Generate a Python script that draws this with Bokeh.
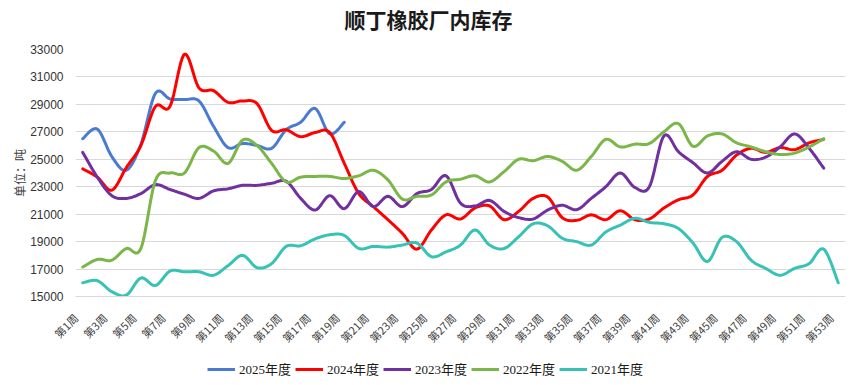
import numpy as np
from bokeh.plotting import figure
from bokeh.layouts import column
from bokeh.models import FixedTicker, Label, Legend, LegendItem, Range1d
from bokeh.embed import file_html
from bokeh.resources import INLINE

title_text = "顺丁橡胶厂内库存"
weeks = list(range(1, 54))
x_ticks = list(range(1, 54, 2))
x_tick_labels = [f"第{w}周" for w in x_ticks]
y_ticks = [15000, 17000, 19000, 21000, 23000, 25000, 27000, 29000, 31000, 33000]

series_names = ["2025年度", "2024年度", "2023年度", "2022年度", "2021年度"]
series_colors = ["#4A7BD0", "#FF0000", "#7030A0", "#7AB648", "#36C2B4"]

y2025 = [26500, 27200, 25200, 24200, 26100, 29800, 29400, 29350, 29250, 27400,
         25850, 26150, 26000, 25800, 27150, 27700, 28700, 26850, 27700]
y2024 = [24300, 23700, 22750, 24400, 26000, 28850, 28850, 32650, 30200, 30000,
         29150, 29250, 29050, 27100, 27150, 26650, 26950, 26950, 24700, 22500,
         21550, 20600, 19600, 18450, 19850, 20950, 20650, 21450, 21600, 20600,
         21200, 22150, 22250, 20750, 20550, 20950, 20600, 21250, 20600, 20650,
         21450, 22050, 22400, 23750, 24200, 25300, 25800, 25500, 25850, 25700,
         26200, 26450]
y2023 = [25500, 23700, 22350, 22150, 22500, 23150, 22800, 22450, 22150, 22700,
         22850, 23100, 23100, 23250, 23400, 22150, 21300, 22350, 21400, 22650,
         21550, 22300, 21550, 22500, 22800, 23800, 21800, 21600, 22000, 21200,
         20750, 20650, 21300, 21650, 21330, 22150, 23000, 24000, 22950, 23000,
         26700, 25550, 24750, 24000, 24850, 25550, 25000, 25150, 25900, 26850,
         25800, 24350]
y2022 = [17150, 17700, 17650, 18500, 18500, 23450, 24000, 24000, 25850, 25600,
         24700, 26400, 26000, 24700, 23350, 23700, 23750, 23750, 23600, 23800,
         24200, 23500, 22100, 22300, 22400, 23350, 23550, 23800, 23350, 24100,
         25000, 24900, 25200, 24850, 24200, 25200, 26450, 25900, 26100, 26150,
         27000, 27600, 25950, 26700, 26850, 26200, 25900, 25550, 25350, 25450,
         25900, 26500]
y2021 = [16000, 16150, 15350, 15100, 16350, 15800, 16850, 16800, 16800, 16550,
         17250, 18000, 17100, 17400, 18650, 18700, 19200, 19500, 19450, 18500,
         18650, 18600, 18750, 18900, 17900, 18250, 18750, 19850, 18750, 18500,
         19350, 20300, 20150, 19250, 19000, 18750, 19700, 20200, 20700, 20400,
         20300, 19950, 18900, 17550, 19300, 19000, 17650, 17050, 16550, 17050,
         17400, 18450, 16000]

all_series = [y2025, y2024, y2023, y2022, y2021]


def smooth(xs, ys, n=12):
    """Catmull-Rom rendering of the polyline (like Excel's smoothed line)."""
    xs = np.asarray(xs, float)
    ys = np.asarray(ys, float)
    m = len(xs)
    ox, oy = [], []
    t = np.linspace(0, 1, n, endpoint=False)
    for i in range(m - 1):
        i0, i3 = max(i - 1, 0), min(i + 2, m - 1)
        for arr, out in ((xs, ox), (ys, oy)):
            p0, p1, p2, p3 = arr[i0], arr[i], arr[i + 1], arr[i3]
            c1 = p1 + (p2 - p0) / 6.0
            c2 = p2 - (p3 - p1) / 6.0
            b = ((1 - t) ** 3) * p1 + 3 * ((1 - t) ** 2) * t * c1 + 3 * (1 - t) * t * t * c2 + t ** 3 * p2
            out.extend(b.tolist())
    ox.append(float(xs[-1]))
    oy.append(float(ys[-1]))
    return ox, oy


LEFT, RIGHT = 75, 12

# ---- title strip ----
tf = figure(width=857, height=36, output_backend="svg", toolbar_location=None,
            x_range=Range1d(0, 1), y_range=Range1d(0, 1),
            x_axis_location=None, y_axis_location=None,
            min_border_left=LEFT, min_border_right=RIGHT, min_border_top=0, min_border_bottom=0)
tf.outline_line_color = None
tf.xgrid.visible = False
tf.ygrid.visible = False
tf.add_layout(Label(x=0.4584, y=0.486, text=title_text, text_align="center",
                    text_baseline="middle", text_font="Noto Sans CJK SC",
                    text_font_size="21px", text_font_style="bold", text_color="#1a1a1a"))

# ---- main chart ----
p = figure(width=857, height=322, output_backend="svg", toolbar_location=None,
           x_range=Range1d(0.5, 53.5), y_range=Range1d(15000, 33000),
           min_border_left=LEFT, min_border_right=RIGHT, min_border_top=13, min_border_bottom=62)

p.outline_line_color = None
p.background_fill_color = "white"
p.border_fill_color = "white"

p.xgrid.visible = False
p.ygrid.grid_line_color = "#D9D9D9"
p.ygrid.grid_line_width = 1

# labels sit so that their end meets the category centre (as in the reference)
label_shift = 0.48
shifted_ticks = [round(w - label_shift, 2) for w in x_ticks]
p.xaxis.ticker = FixedTicker(ticks=shifted_ticks)
p.xaxis.major_label_overrides = {t: lab for t, lab in zip(shifted_ticks, x_tick_labels)}
p.xaxis.major_label_orientation = np.pi / 4
p.xaxis.major_label_text_font = "Noto Sans CJK SC"
p.xaxis.major_label_text_font_size = "11px"
p.xaxis.major_label_text_color = "#404040"
p.xaxis.major_label_standoff = 13
p.xaxis.axis_line_color = "#D9D9D9"
p.xaxis.major_tick_line_color = None
p.xaxis.minor_tick_line_color = None

p.yaxis.ticker = FixedTicker(ticks=y_ticks)
p.yaxis.major_label_text_font = "Liberation Sans"
p.yaxis.major_label_text_font_size = "12px"
p.yaxis.major_label_text_color = "#333333"
p.yaxis.major_label_standoff = 6
p.yaxis.axis_line_color = None
p.yaxis.major_tick_line_color = None
p.yaxis.minor_tick_line_color = None
p.yaxis.axis_label = "单位：吨"
p.yaxis.axis_label_text_font = "Noto Sans CJK SC"
p.yaxis.axis_label_text_font_size = "12px"
p.yaxis.axis_label_text_font_style = "normal"
p.yaxis.axis_label_text_color = "#404040"
p.yaxis.axis_label_standoff = -1

for name, color, ys in zip(series_names, series_colors, all_series):
    sx, sy = smooth(weeks[:len(ys)], ys)
    p.line(sx, sy, line_color=color, line_width=3, line_join="round", line_cap="round")

# ---- legend strip underneath the chart (its lines lie outside its own view) ----
lf = figure(width=857, height=27, output_backend="svg", toolbar_location=None,
            x_range=Range1d(0, 1), y_range=Range1d(0, 1),
            x_axis_location=None, y_axis_location=None,
            min_border_left=LEFT, min_border_right=RIGHT, min_border_top=0, min_border_bottom=0)
lf.outline_line_color = None
lf.xgrid.visible = False
lf.ygrid.visible = False
items = []
for name, color, ys in zip(series_names, series_colors, all_series):
    r = lf.line(weeks[:len(ys)], ys, line_color=color, line_width=3)
    items.append(LegendItem(label=name, renderers=[r]))

legend = Legend(items=items, orientation="horizontal", location=(132, 7))
legend.label_text_font = "Liberation Serif, Noto Sans CJK SC"
legend.label_text_font_size = "13px"
legend.label_text_color = "#1a1a1a"
legend.glyph_width = 28
legend.glyph_height = 14
legend.label_standoff = 4
legend.spacing = 4
legend.padding = 0
legend.margin = 0
legend.border_line_color = None
legend.background_fill_alpha = 0
lf.add_layout(legend, "center")

layout = column(tf, p, lf, spacing=0)
open("out.html", "w").write(file_html(layout, INLINE))
